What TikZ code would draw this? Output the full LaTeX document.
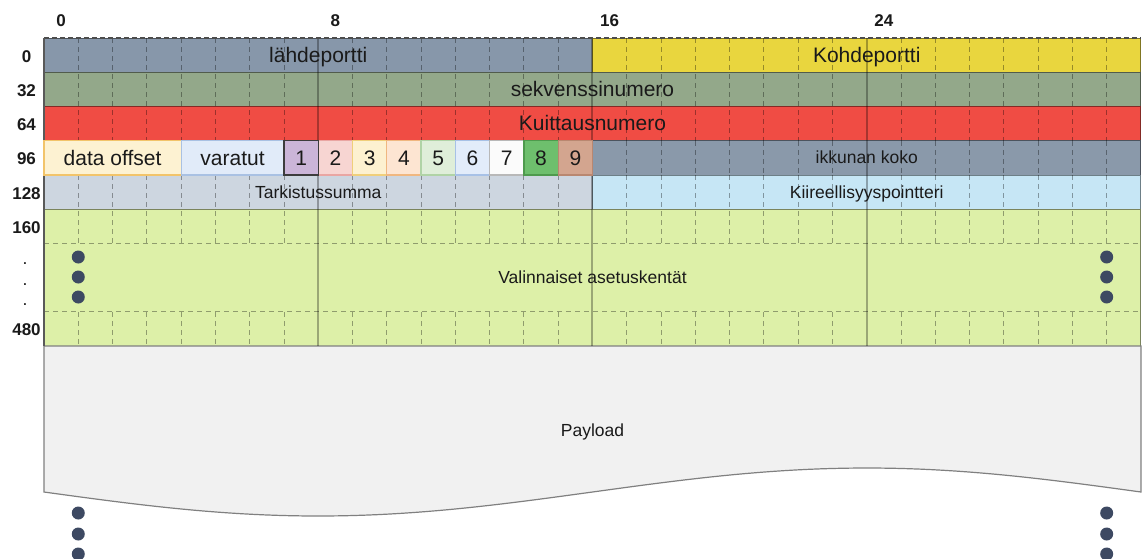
\documentclass[tikz,border=0pt]{standalone}
\usepackage{fontspec}
\setmainfont{Liberation Sans}

% field fills
\definecolor{cSrc}{HTML}{8797AA}
\definecolor{cDst}{HTML}{E9D63E}
\definecolor{cSeq}{HTML}{93A88A}
\definecolor{cAck}{HTML}{F04C44}
\definecolor{cWin}{HTML}{8A99AA}
\definecolor{cChk}{HTML}{CDD6E0}
\definecolor{cUrg}{HTML}{C6E6F5}
\definecolor{cOpt}{HTML}{DDF0A8}
\definecolor{cPay}{HTML}{F1F1F1}
\definecolor{txt}{HTML}{1A1A1A}
\definecolor{dotc}{HTML}{3D4962}
% offset, reserved and flag cells: fill / border
\definecolor{fOff}{HTML}{FDF2D2}\definecolor{bOff}{HTML}{F2C46A}
\definecolor{fRes}{HTML}{E1EBF9}\definecolor{bRes}{HTML}{A9C1E3}
\definecolor{fA}{HTML}{CBB5D8}\definecolor{bA}{HTML}{3C3C3C}
\definecolor{fB}{HTML}{F7D5D2}\definecolor{bB}{HTML}{E9A6A3}
\definecolor{fC}{HTML}{FDF1D0}\definecolor{bC}{HTML}{F0CF7A}
\definecolor{fD}{HTML}{FDE5D2}\definecolor{bD}{HTML}{F0B780}
\definecolor{fE}{HTML}{DFEED9}\definecolor{bE}{HTML}{B0D3A6}
\definecolor{fF}{HTML}{E2ECFA}\definecolor{bF}{HTML}{A7C1E6}
\definecolor{fG}{HTML}{FBFBFB}\definecolor{bG}{HTML}{B8B8B8}
\definecolor{fH}{HTML}{6EBF6D}\definecolor{bH}{HTML}{4E9A4D}
\definecolor{fI}{HTML}{D3A58F}\definecolor{bI}{HTML}{B98770}

\newcommand\fbig{\fontsize{21}{24}\selectfont}
\newcommand\fsmall{\fontsize{17.5}{20}\selectfont}
\newcommand\faxis{\fontsize{17}{20}\selectfont\bfseries}

\begin{document}
\begin{tikzpicture}[x=1pt,y=-1pt,
  field/.style={draw=#1!55!black, fill=#1, line width=1pt, inner sep=0pt,
    outer sep=0pt, anchor=north west, minimum height=34.25pt},
  flagbox/.style 2 args={fill=#1, draw=#2, line width=1.2pt, inner sep=0pt,
    outer sep=0pt, anchor=north west, minimum height=34.25pt},
  gridDash/.style={draw=black, opacity=.35, line width=.9pt, dash pattern=on 5pt off 4pt},
  gridMain/.style={draw=black, opacity=.3, line width=2pt},
  bigLbl/.style={font=\fbig, text=txt, inner sep=0pt, anchor=base, yshift=-7.3pt},
  smallLbl/.style={font=\fsmall, text=txt, inner sep=0pt, anchor=base, yshift=-6pt},
  axisLbl/.style={font=\faxis, text=txt, inner sep=0pt, anchor=base},
  dotMark/.style={circle, fill=dotc, inner sep=0pt, minimum size=13pt}]

\fill[white] (0,0) rectangle (1142,558);
\useasboundingbox (0,0) rectangle (1142,558);

% ---- header fields (bit width 34.28, row height 34.25) ----
\node[field=cSrc, minimum width=548.48pt] (src) at (44,38) {};
\node[field=cDst, minimum width=548.48pt] (dst) at (592.48,38) {};
\node[field=cSeq, minimum width=1096.96pt] (seq) at (44,72.25) {};
\node[field=cAck, minimum width=1096.96pt] (ack) at (44,106.5) {};
\node[field=cWin, minimum width=548.48pt] (win) at (592.48,140.75) {};
\node[field=cChk, minimum width=548.48pt] (chk) at (44,175) {};
\node[field=cUrg, minimum width=548.48pt] (urg) at (592.48,175) {};
\node[field=cOpt, minimum width=1096.96pt, minimum height=137pt] (opt) at (44,209.25) {};

% ---- payload with wavy lower edge ----
\path[fill=cPay, draw=black!50, line width=1.2pt]
  (44,346) -- (1140.96,346) -- (1140.96,492)
  -- plot[domain=360:0, samples=90] ({44+3.047111*\x},{492+24*sin(\x)})
  -- cycle;

% ---- bit grid ----
\foreach \b in {1,...,7,9,10,...,15,17,18,...,23,25,26,...,31} {
  \draw[gridDash] ({44+\b*34.28},38) -- ({44+\b*34.28},140.75);
  \draw[gridDash] ({44+\b*34.28},175) -- ({44+\b*34.28},243.5);
  \draw[gridDash] ({44+\b*34.28},311.75) -- ({44+\b*34.28},346);
}
\foreach \b in {17,18,...,23,25,26,...,31}
  \draw[gridDash] ({44+\b*34.28},140.75) -- ({44+\b*34.28},175);
\draw[gridDash] (44,243.5) -- (1140.96,243.5);
\draw[gridDash] (44,311.75) -- (1140.96,311.75);

\draw[gridMain] (318.24,38) -- (318.24,140.75);
\draw[gridMain] (318.24,175) -- (318.24,346);
\draw[gridMain] (592.48,38) -- (592.48,346);
\draw[gridMain] (866.72,38) -- (866.72,346);

% top edge and left edge of the header
\draw[draw=black!70, line width=1.2pt, dash pattern=on 5pt off 3pt] (44,38) -- (1140.96,38);
\draw[draw=black!65, line width=1.8pt] (44,38) -- (44,346);

% ---- row 96: offset, reserved bits and flags ----
\node[flagbox={fOff}{bOff}, minimum width=137.12pt] (off) at (44,140.75) {};
\node[flagbox={fRes}{bRes}, minimum width=102.84pt] (res) at (181.12,140.75) {};
\foreach \n/\c [count=\i from 0] in {1/A,2/B,3/C,4/D,5/E,6/F,7/G,8/H,9/I} {
  \node[flagbox={f\c}{b\c}, minimum width=34.28pt] (flag\n) at ({283.96+\i*34.28},140.75) {};
  \node[bigLbl] (flagtxt\n) at (flag\n.center) {\n};
}
\draw[draw=bA, line width=1.2pt] (flag1.north west) rectangle (flag1.south east);

% ---- field labels ----
\node[bigLbl] (srcT) at (src.center) {lähdeportti};
\node[bigLbl] (dstT) at (dst.center) {Kohdeportti};
\node[bigLbl] (seqT) at (seq.center) {sekvenssinumero};
\node[bigLbl] (ackT) at (ack.center) {Kuittausnumero};
\node[bigLbl] (offT) at (off.center) {data offset};
\node[bigLbl] (resT) at (res.center) {varatut};
\node[smallLbl] (winT) at (win.center) {ikkunan koko};
\node[smallLbl] (chkT) at (chk.center) {Tarkistussumma};
\node[smallLbl] (urgT) at (urg.center) {Kiireellisyyspointteri};
\node[smallLbl] (optT) at (opt.center) {Valinnaiset asetuskentät};
\node[smallLbl, yshift=0pt] (payT) at (592.48,430) {Payload};

% ---- continuation dots ----
\foreach \y [count=\k] in {257,277,297,513,534,554} {
  \node[dotMark] (dl\k) at (78.28,\y) {};
  \node[dotMark] (dr\k) at (1106.68,\y) {};
}

% ---- bit offsets along the top ----
\node[axisLbl] (b0) at (61.14,26) {0};
\node[axisLbl] (b8) at (335.38,26) {8};
\node[axisLbl] (b16) at (609.62,26) {16};
\node[axisLbl] (b24) at (883.86,26) {24};

% ---- word offsets down the side ----
\node[axisLbl] (w0) at (26.5,62) {0};
\node[axisLbl] (w32) at (26.5,96.25) {32};
\node[axisLbl] (w64) at (26.5,130.5) {64};
\node[axisLbl] (w96) at (26.5,164.75) {96};
\node[axisLbl] (w128) at (26.5,199) {128};
\node[axisLbl] (w160) at (26.5,233.25) {160};
\node[axisLbl, font=\fsmall] (wd1) at (25,264) {.};
\node[axisLbl, font=\fsmall] (wd2) at (25,285) {.};
\node[axisLbl, font=\fsmall] (wd3) at (25,305) {.};
\node[axisLbl] (w480) at (26.5,335.75) {480};

\end{tikzpicture}
\end{document}
